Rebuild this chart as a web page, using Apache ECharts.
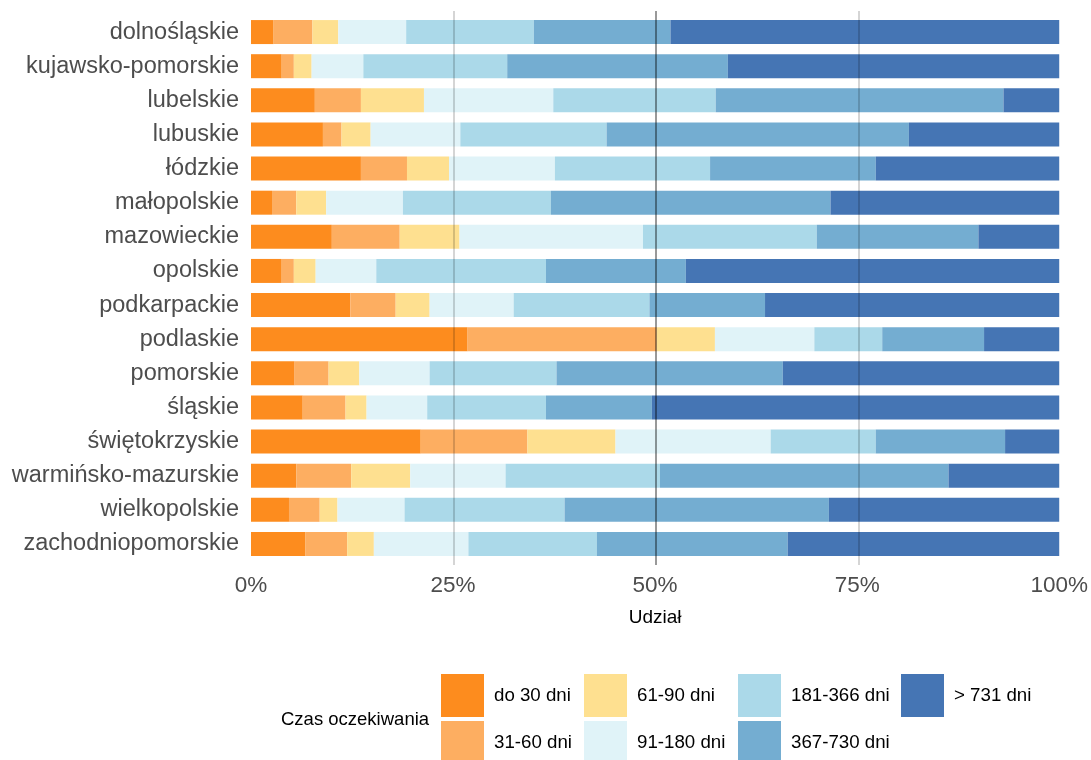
<!DOCTYPE html>
<html>
<head>
<meta charset="utf-8">
<script src="https://cdn.jsdelivr.net/npm/echarts@6/dist/echarts.min.js"></script>
<style>
html,body{margin:0;padding:0;background:#fff;}
#chart{width:1091px;height:760px;}
</style>
</head>
<body>
<div id="chart"></div>
<script>
const regions = ['dolnośląskie','kujawsko-pomorskie','lubelskie','lubuskie','łódzkie','małopolskie','mazowieckie','opolskie','podkarpackie','podlaskie','pomorskie','śląskie','świętokrzyskie','warmińsko-mazurskie','wielkopolskie','zachodniopomorskie'];
const seriesNames = ['do 30 dni','31-60 dni','61-90 dni','91-180 dni','181-366 dni','367-730 dni','> 731 dni'];
const d30   = [2.8, 3.8, 7.9, 8.9, 13.6, 2.6, 10.0, 3.8, 12.3, 26.8, 5.4, 6.4, 21.0, 5.6, 4.7, 6.7];
const d60   = [4.8, 1.5, 5.7, 2.3, 5.7, 3.0, 8.4, 1.5, 5.6, 23.4, 4.2, 5.3, 13.2, 6.8, 3.8, 5.2];
const d90   = [3.2, 2.2, 7.8, 3.6, 5.2, 3.7, 7.4, 2.7, 4.2, 7.2, 3.8, 2.6, 10.9, 7.3, 2.2, 3.3];
const d180  = [8.4, 6.4, 16.0, 11.1, 13.1, 9.5, 22.7, 7.5, 10.4, 12.3, 8.7, 7.5, 19.2, 11.8, 8.3, 11.7];
const d366  = [15.8, 17.8, 20.1, 18.1, 19.2, 18.3, 21.5, 21.0, 16.8, 8.4, 15.7, 14.7, 13.0, 19.1, 19.8, 15.9];
const d730  = [16.9, 27.3, 35.6, 37.4, 20.5, 34.6, 20.0, 17.3, 14.3, 12.6, 28.0, 13.1, 16.0, 35.7, 32.7, 23.6];
const dOver = [48.1, 41.0, 6.9, 18.6, 22.7, 28.3, 10.0, 46.2, 36.4, 9.3, 34.2, 50.4, 6.7, 13.7, 28.5, 33.6];
const xTicks = [0, 25, 50, 75, 100];
const refLines = [25, 50, 75];

const values = [d30, d60, d90, d180, d366, d730, dOver];
const colors = ['#fd8c1e','#fdae61','#fee090','#e0f3f8','#abd9e9','#74add1','#4575b4'];

const font = 'Liberation Sans, Arial, Helvetica, sans-serif';

const barSeries = seriesNames.map((n, i) => ({
  name: n,
  type: 'bar',
  stack: 'total',
  xAxisIndex: 0,
  yAxisIndex: 0,
  barWidth: 24,
  itemStyle: { color: colors[i] },
  emphasis: { disabled: true },
  data: values[i]
}));

const lineSeries = {
  type: 'line',
  xAxisIndex: 1,
  yAxisIndex: 1,
  data: [[0, 0]],
  showSymbol: false,
  lineStyle: { opacity: 0 },
  z: 10,
  silent: true,
  markLine: {
    silent: true,
    symbol: 'none',
    label: { show: false },
    z: 10,
    data: refLines.map(v => ({
      xAxis: v,
      lineStyle: {
        color: v === 50 ? 'rgba(0,0,0,0.4)' : 'rgba(0,0,0,0.22)',
        width: v === 50 ? 2 : 1.5,
        type: 'solid'
      }
    }))
  }
};

// legend layout: 4 columns x 2 rows, column-major
const colLeft = [441, 584, 738, 901];
const rowTop = [674, 721];

const option = {
  animation: false,
  backgroundColor: '#fff',
  textStyle: { fontFamily: font },
  title: {
    text: 'Czas oczekiwania',
    left: 281,
    top: 710,
    padding: 0,
    textStyle: { fontFamily: font, fontSize: 18.5, fontWeight: 'normal', color: '#000' }
  },
  legend: seriesNames.map((n, i) => ({
    orient: 'horizontal',
    left: colLeft[Math.floor(i / 2)],
    top: rowTop[i % 2],
    padding: 0,
    itemWidth: 43,
    itemHeight: 43,
    itemGap: 0,
    icon: 'rect',
    selectedMode: false,
    data: [n],
    textStyle: { fontFamily: font, fontSize: 18.7, color: '#000', padding: [0, 0, 0, 5] }
  })),
  grid: [
    { left: 251, right: 30, top: 15, bottom: 199, containLabel: false },
    { left: 251, right: 30, top: 11, bottom: 195, containLabel: false }
  ],
  xAxis: [
    {
      type: 'value',
      gridIndex: 0,
      min: xTicks[0],
      max: xTicks[xTicks.length - 1],
      interval: 25,
      name: 'Udział',
      nameLocation: 'middle',
      nameGap: 47,
      nameTextStyle: { fontFamily: font, fontSize: 19, color: '#000' },
      axisLine: { show: false },
      axisTick: { show: false },
      splitLine: { show: false },
      axisLabel: { formatter: '{value}%', fontFamily: font, fontSize: 22.5, color: '#4d4d4d', margin: 13 }
    },
    {
      type: 'value',
      gridIndex: 1,
      min: 0,
      max: 100,
      show: false
    }
  ],
  yAxis: [
    {
      type: 'category',
      gridIndex: 0,
      inverse: true,
      data: regions,
      axisLine: { show: false },
      axisTick: { show: false },
      splitLine: { show: false },
      axisLabel: { fontFamily: font, fontSize: 23.5, color: '#4d4d4d', margin: 12 }
    },
    {
      type: 'value',
      gridIndex: 1,
      min: 0,
      max: 1,
      show: false
    }
  ],
  series: barSeries.concat([lineSeries])
};

const chart = echarts.init(document.getElementById('chart'), null, { renderer: 'canvas' });
chart.setOption(option);
</script>
</body>
</html>
